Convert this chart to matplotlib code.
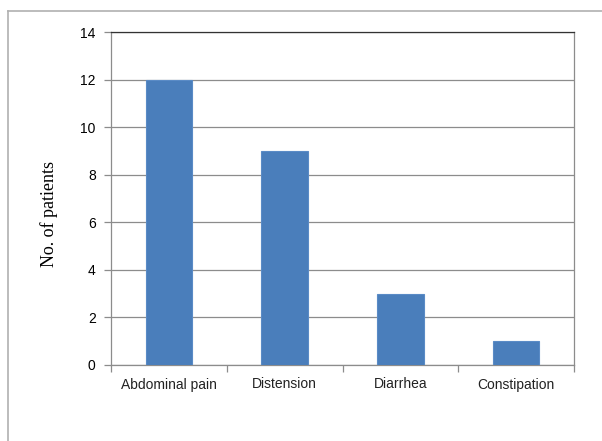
import numpy as np
import matplotlib.pyplot as plt
from matplotlib.lines import Line2D

# 数据
categories = ["Abdominal pain", "Distension", "Diarrhea", "Constipation"]
patients = [12, 9, 3, 1]
y_ticks = [0, 2, 4, 6, 8, 10, 12, 14]

fig = plt.figure(figsize=(6.02, 4.41), dpi=100)
ax = fig.add_axes([111 / 602, 76 / 441, 463 / 602, 333 / 441])

x = np.arange(len(categories))
ax.bar(x, patients, width=0.4, color="#4a7ebb", edgecolor="#5a8bc6", linewidth=0.8, zorder=3)

ax.set_xlim(-0.5, len(categories) - 0.5)
ax.set_ylim(0, 14)
ax.set_yticks(y_ticks)
ax.set_yticklabels([str(v) for v in y_ticks], fontsize=10, family="Liberation Sans")
ax.yaxis.grid(True, color="#8c8c8c", linewidth=0.9, zorder=0)

# x轴刻度在类别边界
ax.set_xticks(x)
ax.set_xticklabels(categories, fontsize=10, family="Liberation Sans", color="#222222")
ax.tick_params(axis="x", length=0, pad=9)
ax.set_xticks(np.arange(-0.5, len(categories)), minor=True)
ax.tick_params(axis="x", which="minor", length=5, color="#8c8c8c", width=0.9)
ax.tick_params(axis="y", length=5, color="#8c8c8c", width=0.9, pad=6)

for side in ["left", "right", "bottom"]:
    ax.spines[side].set_color("#8c8c8c")
    ax.spines[side].set_linewidth(0.9)
ax.spines["top"].set_color("#333333")
ax.spines["top"].set_linewidth(0.9)

ax.set_ylabel("No. of patients", fontsize=13, family="Liberation Serif", labelpad=16)
ax.yaxis.label.set_y(0.453)

# 外框（左边和上边）
fig.add_artist(Line2D([8 / 602, 8 / 602], [0, 1 - 11 / 441], color="#b0b0b0", linewidth=1.2))
fig.add_artist(Line2D([8 / 602, 1], [1 - 11 / 441, 1 - 11 / 441], color="#b0b0b0", linewidth=1.2))

fig.savefig("out.png", dpi=100)
